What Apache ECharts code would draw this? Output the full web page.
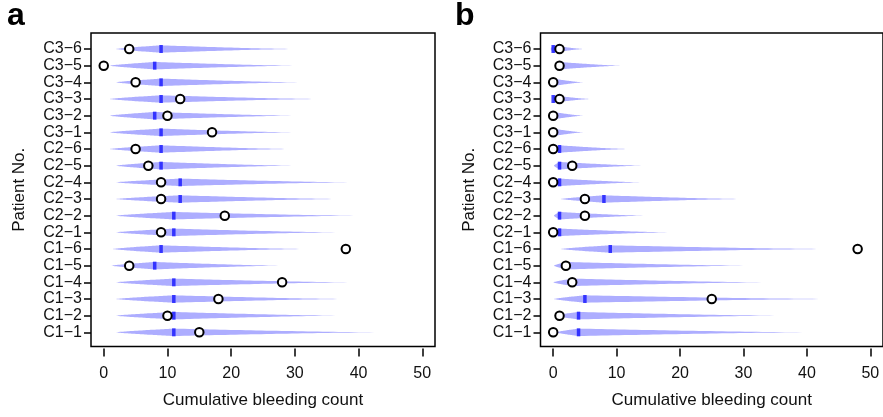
<!DOCTYPE html>
<html>
<head>
<meta charset="utf-8">
<title>Cumulative bleeding count</title>
<script src="https://cdn.jsdelivr.net/npm/echarts@6/dist/echarts.min.js"></script>
<style>
  html, body { margin: 0; padding: 0; background: #fff; }
  #chart { width: 883px; height: 417px; }
</style>
</head>
<body>
<div id="chart"></div>
<script>
// rows bottom -> top
const patients = ['C1−1', 'C1−2', 'C1−3', 'C1−4', 'C1−5', 'C1−6',
  'C2−1', 'C2−2', 'C2−3', 'C2−4', 'C2−5', 'C2−6',
  'C3−1', 'C3−2', 'C3−3', 'C3−4', 'C3−5', 'C3−6']
const xTicks = [0, 10, 20, 30, 40, 50]

// panel a: predicted range (violin), median, observed count
const aLow = [1.9, 1.9, 1.9, 1.9, 1.2, 1.4, 1.9, 1.9, 1.9, 1.9, 1.9, 0.9, 0.9, 0.9, 0.9, 1.9, 0.9, 1.9]
const aMedian = [11, 11, 11, 11, 8, 9, 11, 11, 12, 12, 9, 9, 9, 8, 9, 9, 8, 9]
const aHigh = [43.3, 37, 38, 39, 27.9, 31.8, 37, 40, 37, 39, 30, 29.4, 30, 30, 33.9, 31, 30.2, 30]
const aObserved = [15, 10, 18, 28, 4, 38, 9, 19, 9, 9, 7, 5, 17, 10, 12, 5, 0, 4]

// panel b
const bLow = [0.4, 0.1, 0.1, 0, 0.1, 1.2, 0, 0.1, 1.2, 0, 0.1, 0, 0, 0, 0, 0, 0.4, -0.4]
const bMedian = [4, 4, 5, 3, 2, 9, 1, 1, 8, 1, 1, 1, 0, 0, 0, 0, 1, 0]
const bHigh = [40.2, 35.7, 43.8, 33.6, 30.7, 43.3, 18.4, 14.5, 30, 14, 14.2, 11.9, 4.8, 4.8, 5.9, 4.8, 10.8, 4.8]
const bObserved = [0, 1, 25, 3, 2, 48, 0, 5, 5, 0, 3, 0, 0, 0, 1, 0, 1, 1]

const FONT = '"Liberation Sans", Arial, sans-serif'
const rowTicks = patients.map((p, i) => i + 1)

// ---- violin outline: thin at low end, widest at median, long tail to high end ----
function renderViolin(params, api) {
  const lo = api.value(0), med = api.value(1), hi = api.value(2), row = api.value(3)
  const W = 3.7
  const N = 40
  const top = [], bottom = []
  function push(x, w) {
    const p = api.coord([x, row])
    top.push([p[0], p[1] - w])
    bottom.push([p[0], p[1] + w])
  }
  if (med > lo) {
    for (let i = 0; i <= N; i++) push(lo + (med - lo) * i / N, W * Math.pow(i / N, 0.8))
  } else {
    push(lo, W)
  }
  for (let i = 1; i <= N; i++) push(med + (hi - med) * i / N, W * Math.pow(1 - i / N, 1.3))
  return {
    type: 'polygon',
    shape: { points: top.concat(bottom.reverse()) },
    style: { fill: 'rgba(40,40,255,0.38)' }
  }
}

function panelSeries(idx, lo, med, hi, obs) {
  return [
    {
      type: 'custom',
      xAxisIndex: idx, yAxisIndex: idx,
      renderItem: renderViolin,
      encode: { x: [0, 1, 2], y: 3 },
      data: patients.map((p, i) => [lo[i], med[i], hi[i], i + 1]),
      silent: true, z: 1
    },
    {
      type: 'scatter',
      xAxisIndex: idx, yAxisIndex: idx,
      symbol: 'rect', symbolSize: [3.5, 8],
      itemStyle: { color: '#1414ff' },
      data: patients.map((p, i) => [med[i], i + 1]),
      silent: true, z: 2
    },
    {
      type: 'scatter',
      xAxisIndex: idx, yAxisIndex: idx,
      symbol: 'circle', symbolSize: 8.5,
      itemStyle: { color: '#fff', borderColor: '#000', borderWidth: 2, opacity: 1 },
      data: patients.map((p, i) => [obs[i], i + 1]),
      silent: true, z: 3
    }
  ]
}

function xAxisFor(idx) {
  return {
    gridIndex: idx, type: 'value', min: -2, max: 52, offset: 2,
    axisLine: { show: false },
    splitLine: { show: false },
    axisTick: { show: true, customValues: xTicks, length: 8, lineStyle: { color: '#000', width: 1.5 } },
    axisLabel: { customValues: xTicks, fontSize: 16, fontFamily: FONT, color: '#111', margin: 17 },
    name: 'Cumulative bleeding count', nameLocation: 'middle', nameGap: 43,
    nameTextStyle: { fontSize: 17, fontFamily: FONT, color: '#111' }
  }
}

// hidden helper x axis whose zero sits exactly on the box's left edge,
// so the y axis (on zero) is drawn at the frame like R's axis
function anchorAxisFor(idx) {
  return { gridIndex: idx, type: 'value', min: 0, max: 1, show: false }
}

function yAxisFor(idx) {
  return {
    gridIndex: idx, type: 'value', min: 0.15, max: 18.96,
    axisLine: { show: false, onZero: true, onZeroAxisIndex: idx + 2 },
    splitLine: { show: false },
    axisTick: { show: true, customValues: rowTicks, length: 7, lineStyle: { color: '#000', width: 1.5 } },
    axisLabel: {
      customValues: rowTicks, fontSize: 16, fontFamily: FONT, color: '#111', margin: 9,
      formatter: v => patients[Math.round(v) - 1] || ''
    },
    name: 'Patient No.', nameLocation: 'middle', nameGap: 63, nameRotate: 90,
    nameTextStyle: { fontSize: 17, fontFamily: FONT, color: '#111' }
  }
}

const chart = echarts.init(document.getElementById('chart'), null, { renderer: 'canvas' })
chart.setOption({
  animation: false,
  backgroundColor: '#fff',
  title: [
    { text: 'a', left: 7, top: 0, padding: 0, textStyle: { fontSize: 32, fontWeight: 'bold', fontFamily: FONT, color: '#000' } },
    { text: 'b', left: 455, top: 0, padding: 0, textStyle: { fontSize: 32, fontWeight: 'bold', fontFamily: FONT, color: '#000' } }
  ],
  grid: [
    { left: 91, top: 33, width: 344, height: 313.5, show: true, borderColor: '#000', borderWidth: 1.5, backgroundColor: 'transparent' },
    { left: 540.5, top: 33, width: 344, height: 313.5, show: true, borderColor: '#000', borderWidth: 1.5, backgroundColor: 'transparent' }
  ],
  xAxis: [xAxisFor(0), xAxisFor(1), anchorAxisFor(0), anchorAxisFor(1)],
  yAxis: [yAxisFor(0), yAxisFor(1)],
  series: panelSeries(0, aLow, aMedian, aHigh, aObserved)
    .concat(panelSeries(1, bLow, bMedian, bHigh, bObserved))
})
</script>
</body>
</html>
